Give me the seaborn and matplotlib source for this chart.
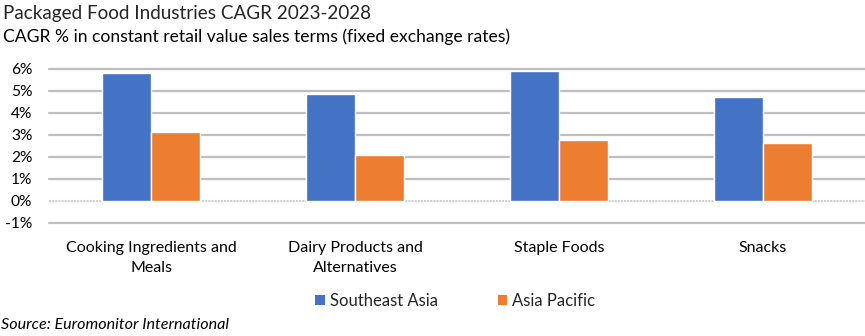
import matplotlib
matplotlib.use("Agg")
import matplotlib.pyplot as plt
import seaborn as sns
import pandas as pd
from matplotlib.ticker import FuncFormatter
from matplotlib.patches import Patch

categories = ["Cooking Ingredients and\nMeals", "Dairy Products and\nAlternatives", "Staple Foods", "Snacks"]
southeast_asia = [5.80, 4.85, 5.90, 4.72]
asia_pacific = [3.12, 2.08, 2.76, 2.63]
series_names = ["Southeast Asia", "Asia Pacific"]
yticks = [-1, 0, 1, 2, 3, 4, 5, 6]

df = pd.DataFrame({
    "category": categories * 2,
    "series": [series_names[0]] * 4 + [series_names[1]] * 4,
    "value": southeast_asia + asia_pacific,
})

sns.set_theme(style="white")
plt.rcParams["font.family"] = ["Lato", "DejaVu Sans"]

W, H = 865, 336
fig = plt.figure(figsize=(W / 100, H / 100), dpi=100)
ax = fig.add_axes([49 / W, (H - 222.7) / H, (865 - 49) / W, (222.7 - 68.7) / H])

colors = ["#4472C4", "#ED7D31"]
sns.barplot(data=df, x="category", y="value", hue="series", palette=colors,
            width=0.48, gap=0, ax=ax, legend=False, saturation=1, zorder=3)

ax.set_ylim(-1, 6)
ax.set_xlim(-0.5, 3.5)
ax.set_yticks(yticks)
ax.yaxis.set_major_formatter(FuncFormatter(lambda v, p: f"{int(round(v))}%"))
for y in yticks:
    if y == 0:
        ax.axhline(y, color="#D0D0D0", lw=1.5, ls=(0, (1, 0.5)), zorder=2, clip_on=False)
    else:
        ax.axhline(y, color="#BFBFBF", lw=1.6, zorder=1, clip_on=False)
for s in ax.spines.values():
    s.set_visible(False)
ax.set_xlabel("")
ax.set_ylabel("")
ax.tick_params(axis="y", length=0, pad=12, labelsize=11.2, labelcolor="#000000")
ax.tick_params(axis="x", length=0, pad=13.5, labelsize=11.5, labelcolor="#000000")
for lbl in ax.get_xticklabels():
    lbl.set_linespacing(1.55)

fig.text(3 / W, 1 - 14 / H, "Packaged Food Industries CAGR 2023-2028", fontsize=13.6,
         color="#262626", va="center", ha="left")
fig.text(3 / W, 1 - 37 / H, "CAGR % in constant retail value sales terms (fixed exchange rates)",
         fontsize=12.6, color="#000000", va="center", ha="left")
fig.text(1 / W, 1 - 325 / H, "Source: Euromonitor International", fontsize=11.6,
         style="italic", color="#000000", va="center", ha="left")

handles = [Patch(facecolor=c, edgecolor="none") for c in colors]
fig.legend(handles, series_names, loc="center", bbox_to_anchor=(455 / W, 1 - 301 / H),
           ncol=2, frameon=False, fontsize=12, handlelength=0.55, handleheight=0.55,
           handletextpad=0.3, columnspacing=3.6)

fig.savefig("out.png", dpi=100)
